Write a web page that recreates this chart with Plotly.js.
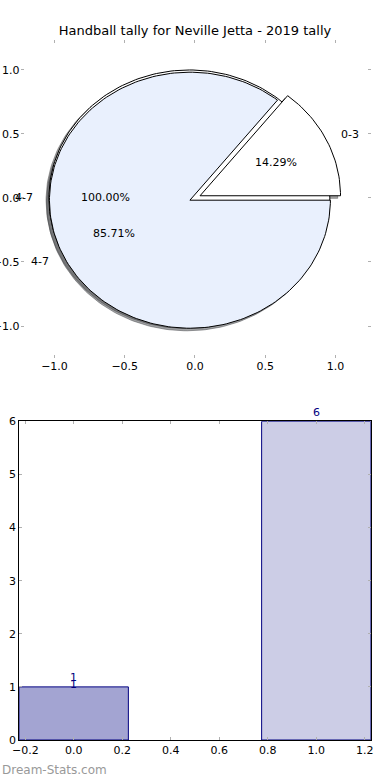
<!DOCTYPE html>
<html>
<head>
<meta charset="utf-8">
<script src="https://cdn.plot.ly/plotly-3.0.1.min.js"></script>
<style>html,body{margin:0;padding:0;background:#fff;}#chart{width:390px;height:780px;}</style>
</head>
<body>
<div id="chart"></div>
<script>
// ---- data ----
const chartTitle = 'Handball tally for Neville Jetta - 2019 tally';
// first (underlying) pie: a single category
const pieALabels = ['4-7'];
const pieAValues = [6];
const pieAColors = ['#ffffff'];
// second pie: both categories
const pieBLabels = ['0-3', '4-7'];
const pieBValues = [1, 6];
const pieBColors = ['#ffffff', '#e9f0fd'];
const pieExplode = 0.04;
const pieTicks = [-1.0, -0.5, 0.0, 0.5, 1.0];

// bar chart
const barX = [0, 1];
const barY = [1, 6];
const barLabels = ['1', '6'];
const barColors = ['#a3a4d2', '#cccde6'];
const barWidth = 0.45;
const extraLabelX = [0];
const extraLabelY = [1];
const extraLabelText = ['1'];
const barYTicks = [0, 1, 2, 3, 4, 5, 6];
const barXTicks = [-0.2, 0.0, 0.2, 0.4, 0.6, 0.8, 1.0, 1.2];

// ---- helpers ----
const FONT = 'DejaVu Sans, sans-serif';
function wedgeGeom(values) {
  const total = values.reduce((a, b) => a + b, 0);
  let start = 0;
  return values.map(v => {
    const sweep = 360 * v / total;
    const g = {t1: start, t2: start + sweep, mid: start + sweep / 2, frac: v / total};
    start += sweep;
    return g;
  });
}
function wedgePath(g, cx, cy) {
  const xs = [], ys = [];
  const full = (g.t2 - g.t1) >= 359.999;
  const n = Math.max(8, Math.ceil((g.t2 - g.t1) / 1.5));
  if (!full) { xs.push(cx); ys.push(cy); }
  for (let i = 0; i <= n; i++) {
    const a = (g.t1 + (g.t2 - g.t1) * i / n) * Math.PI / 180;
    xs.push(cx + Math.cos(a)); ys.push(cy + Math.sin(a));
  }
  xs.push(xs[0]); ys.push(ys[0]);
  return {xs, ys};
}
function shadowColor(hex) {
  const r = parseInt(hex.slice(1, 3), 16), g = parseInt(hex.slice(3, 5), 16), b = parseInt(hex.slice(5, 7), 16);
  return 'rgba(' + Math.round(r * 0.3) + ',' + Math.round(g * 0.3) + ',' + Math.round(b * 0.3) + ',0.5)';
}

const traces = [];
const annotations = [];
const pies = [
  {labels: pieALabels, values: pieAValues, colors: pieAColors},
  {labels: pieBLabels, values: pieBValues, colors: pieBColors}
];
const wedges = [];
pies.forEach(p => {
  wedgeGeom(p.values).forEach((g, i) => {
    const m = g.mid * Math.PI / 180;
    const cx = pieExplode * Math.cos(m), cy = pieExplode * Math.sin(m);
    wedges.push({g, cx, cy, color: p.colors[i], label: p.labels[i], m});
  });
});
// shadows first
wedges.forEach(w => {
  const path = wedgePath(w.g, w.cx - 0.02, w.cy - 0.02);
  const c = shadowColor(w.color);
  traces.push({type: 'scatter', mode: 'lines', x: path.xs, y: path.ys, fill: 'toself',
    fillcolor: c, line: {color: c, width: 1}, hoverinfo: 'skip', xaxis: 'x', yaxis: 'y'});
});
wedges.forEach(w => {
  const path = wedgePath(w.g, w.cx, w.cy);
  traces.push({type: 'scatter', mode: 'lines', x: path.xs, y: path.ys, fill: 'toself',
    fillcolor: w.color, line: {color: '#000000', width: 1}, hoverinfo: 'skip', xaxis: 'x', yaxis: 'y'});
  const lx = (1.1 + pieExplode) * Math.cos(w.m), ly = (1.1 + pieExplode) * Math.sin(w.m);
  annotations.push({xref: 'x', yref: 'y', x: lx, y: ly, text: w.label, showarrow: false,
    xanchor: lx < 0 ? 'right' : 'left', yanchor: 'middle', font: {family: FONT, size: 11, color: '#000'}});
  const px = (0.6 + pieExplode) * Math.cos(w.m), py = (0.6 + pieExplode) * Math.sin(w.m);
  annotations.push({xref: 'x', yref: 'y', x: px, y: py, text: (w.g.frac * 100).toFixed(2) + '%', showarrow: false,
    xanchor: 'center', yanchor: 'middle', font: {family: FONT, size: 11, color: '#000'}});
});

// bars
traces.push({type: 'bar', x: barX, y: barY, width: barWidth,
  marker: {color: barColors, line: {color: '#000080', width: 1}},
  hoverinfo: 'skip', xaxis: 'x2', yaxis: 'y2'});
barX.forEach((x, i) => {
  annotations.push({xref: 'x2', yref: 'y2', x: x, y: barY[i], text: barLabels[i], showarrow: false,
    xanchor: 'center', yanchor: 'middle', yshift: 9, font: {family: FONT, size: 11, color: '#000080'}});
});
extraLabelX.forEach((x, i) => {
  annotations.push({xref: 'x2', yref: 'y2', x: x, y: extraLabelY[i], text: extraLabelText[i], showarrow: false,
    xanchor: 'center', yanchor: 'middle', yshift: 2, font: {family: FONT, size: 11, color: '#000080'}});
});

annotations.push({xref: 'paper', yref: 'paper', x: 0, y: 1 - 770 / 780, xanchor: 'left', yanchor: 'middle',
  text: 'Dream-Stats.com', showarrow: false, font: {family: FONT, size: 12, color: '#999999'}});

const tickGray = '#b0b0b0';
const layout = {
  width: 390, height: 780,
  margin: {l: 0, r: 0, t: 0, b: 0},
  paper_bgcolor: '#ffffff', plot_bgcolor: 'rgba(0,0,0,0)',
  showlegend: false,
  font: {family: FONT, size: 11, color: '#000'},
  title: {text: chartTitle, x: 0.5, xanchor: 'center', y: 1 - 30 / 780, yanchor: 'middle',
    font: {family: FONT, size: 13, color: '#000'}},
  xaxis: {domain: [20.5 / 390, 371 / 390], range: [-1.242, 1.253], tickvals: pieTicks,
    ticktext: pieTicks.map(v => v.toFixed(1).replace('-', '\u2212')),
    ticks: 'inside', ticklen: 3, tickcolor: tickGray, mirror: 'ticks', showline: false,
    showgrid: false, zeroline: false, anchor: 'y', tickfont: {family: FONT, size: 11}},
  yaxis: {domain: [(780 - 358) / 780, (780 - 39.5) / 780], range: [-1.25, 1.238], tickvals: pieTicks,
    ticktext: pieTicks.map(v => v.toFixed(1).replace('-', '\u2212')),
    ticks: 'inside', ticklen: 3, tickcolor: tickGray, mirror: 'ticks', showline: false,
    showgrid: false, zeroline: false, anchor: 'x', tickfont: {family: FONT, size: 11}},
  xaxis2: {domain: [19.3 / 390, 370.7 / 390], range: [-0.225, 1.225], tickvals: barXTicks,
    ticktext: barXTicks.map(v => v.toFixed(1).replace('-', '\u2212')),
    ticks: 'inside', ticklen: 3, tickcolor: tickGray, mirror: 'ticks', showline: true,
    linecolor: '#000', linewidth: 1, showgrid: false, zeroline: false, anchor: 'y2',
    tickfont: {family: FONT, size: 11}},
  yaxis2: {domain: [40 / 780, (780 - 421.3) / 780], range: [0, 6], tickvals: barYTicks,
    ticks: 'inside', ticklen: 3, tickcolor: tickGray, mirror: 'ticks', showline: true,
    linecolor: '#000', linewidth: 1, showgrid: false, zeroline: false, anchor: 'x2',
    tickfont: {family: FONT, size: 11}},
  annotations: annotations
};
Plotly.newPlot('chart', traces, layout, {staticPlot: true, displayModeBar: false});
</script>
</body>
</html>
